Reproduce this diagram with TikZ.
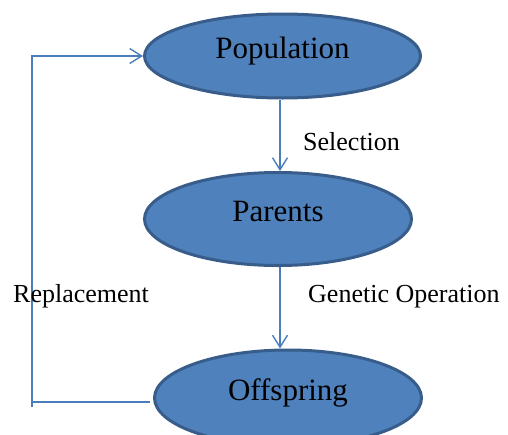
\documentclass[tikz,border=0pt]{standalone}
\usepackage{fontspec}
\setmainfont{Liberation Serif}
\usetikzlibrary{shapes.geometric,arrows.meta}
\definecolor{fillblue}{HTML}{4F81BD}
\definecolor{edgeblue}{HTML}{385D8A}
\definecolor{linkblue}{HTML}{4A7EBB}
\begin{document}
\begin{tikzpicture}[x=1pt,y=-1pt,
  stage/.style={ellipse,draw=edgeblue,fill=fillblue,line width=3pt,inner sep=0pt,
    text height=0.8em,text depth=0.25em,font=\fontsize{31}{36}\selectfont},
  conn/.style={draw=linkblue,line width=1.4pt,-{Straight Barb[length=12pt,width=15pt,line width=1.4pt]}},
  plain/.style={draw=linkblue,line width=1.4pt},
  lbl/.style={anchor=base west,inner sep=0pt,font=\fontsize{26}{30}\selectfont}]
\useasboundingbox (0,0) rectangle (508,434);
\node[stage,minimum width=276pt,minimum height=84pt] (pop) at (282.5,56) {Population};
\node[stage,minimum width=267pt,minimum height=93pt] (par) at (278,219) {Parents};
\node[stage,minimum width=267pt,minimum height=96pt] (off) at (288,398) {Offspring};
\coordinate (axis) at (280,0);
\coordinate (lb) at (32,407);
\coordinate (rl) at (150,402);
\draw[conn] (axis |- pop.south) -- (axis |- par.north);
\draw[conn] (axis |- par.south) -- (axis |- off.north);
\draw[conn] (lb) |- (pop.west);
\draw[plain] (rl) -- (rl -| lb);
\node[lbl] (sel) at (303,150) {Selection};
\node[lbl] (gen) at (308,302) {Genetic Operation};
\node[lbl] (rep) at (13,302) {Replacement};
\end{tikzpicture}
\end{document}
